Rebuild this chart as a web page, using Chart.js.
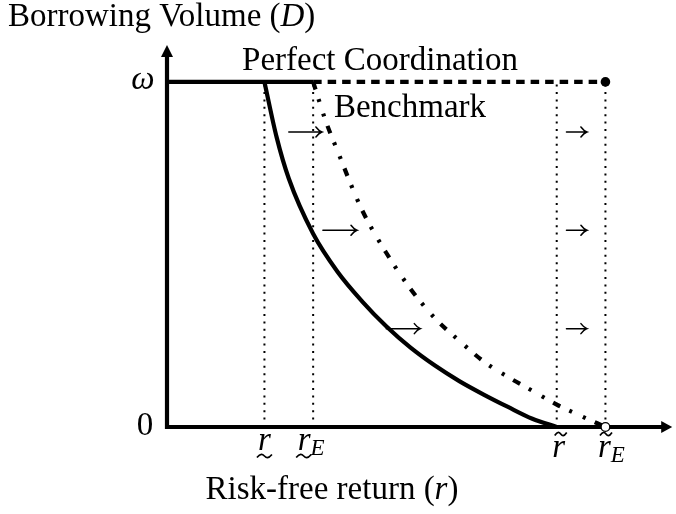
<!DOCTYPE html>
<html>
<head>
<meta charset="utf-8">
<script src="https://cdn.jsdelivr.net/npm/chart.js@4"></script>
<style>
  html, body { margin: 0; padding: 0; background: #fff; }
  #wrap { width: 676px; height: 514px; }
</style>
</head>
<body>
<div id="wrap"><canvas id="chart" width="676" height="514"></canvas></div>
<script>
// values (x: risk-free return, y: borrowing volume, omega = 1)
const omega = 1;
const tickR = [2, 3, 8, 9];            // r_, r_E, r~, r~E
const flatX = [0, 3];                   // solid omega level up to r_E
const coordX = [3, 9];                  // perfect coordination, dashed
const solidX = [2, 2.25, 2.5, 3, 3.5, 4, 4.5, 5, 5.5, 6, 6.5, 7, 7.5, 8];
const solidY = [1, 0.84, 0.72, 0.56, 0.45, 0.365, 0.292, 0.23, 0.178, 0.133, 0.094, 0.058, 0.024, 0];
const benchX = [3, 3.25, 3.5, 4, 4.5, 5, 5.5, 6, 6.5, 7, 7.5, 8, 8.5, 9];
const benchY = [1, 0.89, 0.8, 0.63, 0.505, 0.4, 0.315, 0.25, 0.19, 0.145, 0.105, 0.065, 0.032, 0];
const shiftY = [0.855, 0.57, 0.285];
const longArrowFrom = [2.5, 3.2, 4.5];
const longArrowTo = [3.18, 3.9, 5.2];
const shortArrowFrom = 8.2;
const shortArrowTo = 8.62;

const pts = (xs, ys) => xs.map((x, i) => ({ x: x, y: ys[i] }));
const FONT = '"Liberation Serif", serif';
const LW = 4.2;

const datasets = [];
// dotted guide lines
tickR.forEach(r => {
    datasets.push({
        data: [{ x: r, y: 0 }, { x: r, y: omega }],
        borderColor: '#000', borderWidth: 2, borderDash: [2, 5.4],
        pointRadius: 0, showLine: true, clip: false
    });
});
datasets.push({
    data: pts(flatX, flatX.map(() => omega)),
    borderColor: '#000', borderWidth: LW, pointRadius: 0, showLine: true, clip: false
});
datasets.push({
    data: pts(coordX, coordX.map(() => omega)),
    borderColor: '#000', borderWidth: LW, borderDash: [8.5, 6],
    pointRadius: [0, 4.8], pointBackgroundColor: '#000', pointBorderWidth: 0,
    showLine: true, clip: false
});
datasets.push({
    data: pts(solidX, solidY),
    borderColor: '#000', borderWidth: LW, pointRadius: 0,
    cubicInterpolationMode: 'monotone', showLine: true, clip: false
});
datasets.push({
    data: pts(benchX, benchY),
    borderColor: '#000', borderWidth: LW, borderDash: [8, 10, 3, 12, 3, 10],
    pointRadius: 0, cubicInterpolationMode: 'monotone', showLine: true, clip: false
});

function drawParts(ctx, parts, x, y, align) {
    // parts: [text, font, dy]
    let w = 0;
    parts.forEach(p => { ctx.font = p[1]; w += ctx.measureText(p[0]).width; });
    let cx = align === 'center' ? x - w / 2 : x;
    parts.forEach(p => {
        ctx.font = p[1];
        ctx.textAlign = 'left';
        ctx.fillText(p[0], cx, y + (p[2] || 0));
        cx += ctx.measureText(p[0]).width;
    });
    return { left: align === 'center' ? x - w / 2 : x, width: w };
}

function tilde(ctx, cx, cy, w) {
    ctx.save();
    ctx.lineWidth = 1.7;
    ctx.beginPath();
    ctx.moveTo(cx - w / 2, cy + 1.5);
    ctx.bezierCurveTo(cx - w / 4, cy - 3, cx - w / 8, cy - 2, cx, cy);
    ctx.bezierCurveTo(cx + w / 8, cy + 2, cx + w / 4, cy + 3, cx + w / 2, cy - 1.5);
    ctx.stroke();
    ctx.restore();
}

function arrow(ctx, x0, x1, y) {
    ctx.save();
    ctx.lineWidth = 1.5;
    ctx.lineCap = 'round';
    ctx.beginPath();
    ctx.moveTo(x0, y);
    ctx.lineTo(x1, y);
    ctx.moveTo(x1 - 6, y - 5);
    ctx.quadraticCurveTo(x1 - 3, y - 1, x1, y);
    ctx.quadraticCurveTo(x1 - 3, y + 1, x1 - 6, y + 5);
    ctx.stroke();
    ctx.restore();
}

const decor = {
    id: 'decor',
    beforeDatasetsDraw(chart) {
        const ctx = chart.ctx;
        const xs = chart.scales.x, ys = chart.scales.y;
        const a = chart.chartArea;
        const x0 = xs.getPixelForValue(0), y0 = ys.getPixelForValue(0);
        ctx.save();
        ctx.strokeStyle = '#000';
        ctx.fillStyle = '#000';
        ctx.lineWidth = LW;
        ctx.beginPath();
        ctx.moveTo(x0, y0);
        ctx.lineTo(a.right - 8, y0);
        ctx.moveTo(x0, y0 + LW / 2);
        ctx.lineTo(x0, a.top + 10);
        ctx.stroke();
        ctx.beginPath();
        ctx.moveTo(a.right + 1, y0);
        ctx.lineTo(a.right - 10, y0 - 6);
        ctx.lineTo(a.right - 10, y0 + 6);
        ctx.closePath();
        ctx.fill();
        ctx.beginPath();
        ctx.moveTo(x0, a.top);
        ctx.lineTo(x0 - 6, a.top + 12);
        ctx.lineTo(x0 + 6, a.top + 12);
        ctx.closePath();
        ctx.fill();
        ctx.restore();
    },
    afterDatasetsDraw(chart) {
        const ctx = chart.ctx;
        const xs = chart.scales.x, ys = chart.scales.y;
        const roman = '33px ' + FONT, ital = 'italic 33px ' + FONT, sub = 'italic 23px ' + FONT;
        ctx.save();
        ctx.fillStyle = '#000';
        ctx.strokeStyle = '#000';
        ctx.textBaseline = 'alphabetic';

        // open circle at r~E on the axis
        const ex = xs.getPixelForValue(tickR[3]), ey = ys.getPixelForValue(0);
        ctx.beginPath();
        ctx.arc(ex, ey, 4.4, 0, Math.PI * 2);
        ctx.fillStyle = '#fff';
        ctx.fill();
        ctx.lineWidth = 1.4;
        ctx.stroke();
        ctx.fillStyle = '#000';

        // shift arrows
        shiftY.forEach((v, i) => {
            const py = ys.getPixelForValue(v);
            arrow(ctx, xs.getPixelForValue(longArrowFrom[i]), xs.getPixelForValue(longArrowTo[i]), py);
            arrow(ctx, xs.getPixelForValue(shortArrowFrom), xs.getPixelForValue(shortArrowTo), py);
        });

        // titles
        drawParts(ctx, [['Borrowing Volume (', roman], ['D', ital], [')', roman]], 8, 26, 'left');
        drawParts(ctx, [['Risk-free return (', roman], ['r', ital], [')', roman]], 332, 499, 'center');
        drawParts(ctx, [['Perfect Coordination', roman]], 380, 70, 'center');
        drawParts(ctx, [['Benchmark', roman]], 410, 117, 'center');

        // y tick labels
        const yw = ys.getPixelForValue(omega);
        drawParts(ctx, [['\u03c9', ital]], 143, yw + 7, 'center');
        drawParts(ctx, [['0', roman]], 145, ys.getPixelForValue(0) + 8, 'center');

        // x tick labels
        let p = drawParts(ctx, [['r', ital]], xs.getPixelForValue(tickR[0]), 450, 'center');
        tilde(ctx, p.left + p.width / 2, 456, 15);
        p = drawParts(ctx, [['r', ital], ['E', sub, 5]], xs.getPixelForValue(tickR[1]) - 2, 450, 'center');
        tilde(ctx, p.left + 6, 456, 15);
        p = drawParts(ctx, [['r', ital]], xs.getPixelForValue(tickR[2]) + 2, 457, 'center');
        tilde(ctx, p.left + p.width / 2 + 2, 434, 12);
        p = drawParts(ctx, [['r', ital], ['E', sub, 5]], xs.getPixelForValue(tickR[3]) + 6, 457, 'center');
        tilde(ctx, p.left + 8, 434, 12);
        ctx.restore();
    }
};

new Chart(document.getElementById('chart'), {
    type: 'scatter',
    data: { datasets: datasets },
    options: {
        responsive: false,
        animation: false,
        layout: { padding: { left: 167, right: 2, top: 45, bottom: 87 } },
        plugins: { legend: { display: false }, tooltip: { enabled: false } },
        scales: {
            x: { type: 'linear', min: 0, max: 10.35, display: false },
            y: { type: 'linear', min: 0, max: 1.107, display: false }
        }
    },
    plugins: [decor]
});
</script>
</body>
</html>
